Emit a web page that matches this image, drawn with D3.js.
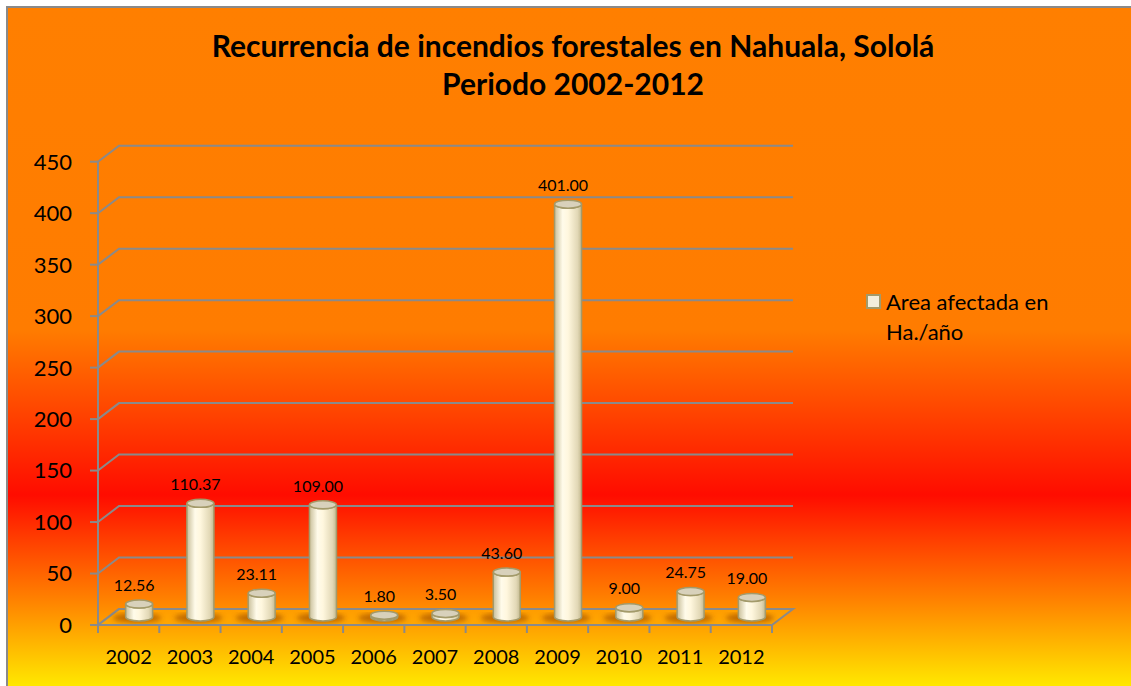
<!DOCTYPE html>
<html>
<head>
<meta charset="utf-8">
<script src="https://cdn.jsdelivr.net/npm/d3@7"></script>
<style>
  body { margin: 0; background: #fff; }
  text { font-family: Lato, "Noto Sans", sans-serif; fill: #000; }
</style>
</head>
<body>
<div id="chart"></div>
<script>
var years = ["2002", "2003", "2004", "2005", "2006", "2007", "2008", "2009", "2010", "2011", "2012"];
var area = [12.56, 110.37, 23.11, 109.00, 1.80, 3.50, 43.60, 401.00, 9.00, 24.75, 19.00];
var yTicks = [0, 50, 100, 150, 200, 250, 300, 350, 400, 450];
var titleLines = ["Recurrencia de incendios forestales en Nahuala, Sololá", "Periodo 2002-2012"];
var legendLines = ["Area afectada en", "Ha./año"];

var width = 1131, height = 686;
var plotLeft = 98, plotRight = 772, plotBottom = 625, plotTop = 161.7;
var depthX = 21, depthY = -16;
var grid = "#8a8a8a";

var svg = d3.select("#chart").append("svg")
    .attr("width", width)
    .attr("height", height);

var defs = svg.append("defs");

// background gradient, orange -> red -> yellow
var bg = defs.append("linearGradient")
    .attr("id", "bg")
    .attr("gradientUnits", "userSpaceOnUse")
    .attr("x1", 0).attr("y1", 7).attr("x2", 0).attr("y2", 686);
[[7, "#ff7f00"], [330, "#ff7c00"], [495, "#ff0c00"], [600, "#ff8200"], [686, "#ffe800"]].forEach(function(s) {
  bg.append("stop").attr("offset", (s[0] - 7) / 679).attr("stop-color", s[1]);
});

var body = defs.append("linearGradient").attr("id", "cyl")
    .attr("x1", 0).attr("y1", 0).attr("x2", 1).attr("y2", 0);
[[0, "#c9bf9a"], [0.3, "#fffbea"], [0.5, "#fff7de"], [0.85, "#e2d8b6"], [1, "#c3b990"]].forEach(function(s) {
  body.append("stop").attr("offset", s[0]).attr("stop-color", s[1]);
});

defs.append("filter").attr("id", "blur")
  .append("feGaussianBlur").attr("stdDeviation", 2.5);

svg.append("rect")
    .attr("x", 7).attr("y", 7)
    .attr("width", width + 20).attr("height", height + 20)
    .attr("fill", "url(#bg)")
    .attr("stroke", grid)
    .attr("stroke-width", 2);

var x = d3.scaleBand().domain(years).range([plotLeft, plotRight]).padding(0);
var y = d3.scaleLinear().domain([0, 450]).range([plotBottom, plotTop]);

// back wall gridlines with the short diagonal from the front axis
var gridG = svg.append("g");
yTicks.forEach(function(t) {
  gridG.append("polyline")
      .attr("points", [[plotLeft, y(t)], [plotLeft + depthX, y(t) + depthY], [plotRight + depthX, y(t) + depthY]].join(" "))
      .attr("fill", "none")
      .attr("stroke", grid)
      .attr("stroke-width", 2);
});

// floor
svg.append("path")
    .attr("d", "M" + plotLeft + "," + plotBottom + "L" + plotRight + "," + plotBottom +
               "L" + (plotRight + depthX) + "," + (plotBottom + depthY) +
               "L" + (plotLeft + depthX) + "," + (plotBottom + depthY) + "Z")
    .attr("fill", "rgba(255,180,0,0.4)")
    .attr("stroke", grid)
    .attr("stroke-width", 2);

// y axis
var yAxis = svg.append("g");
yAxis.append("line")
    .attr("x1", plotLeft).attr("x2", plotLeft)
    .attr("y1", plotTop).attr("y2", plotBottom)
    .attr("stroke", grid).attr("stroke-width", 2);
yTicks.forEach(function(t) {
  yAxis.append("line")
      .attr("x1", plotLeft - 8).attr("x2", plotLeft)
      .attr("y1", y(t)).attr("y2", y(t))
      .attr("stroke", grid).attr("stroke-width", 2);
  yAxis.append("text")
      .attr("x", 72).attr("y", y(t))
      .attr("dy", "0.36em")
      .attr("text-anchor", "end")
      .attr("font-size", "22px")
      .text(t);
});

// x axis ticks + labels
var xAxis = svg.append("g");
d3.range(years.length + 1).forEach(function(i) {
  var xx = plotLeft + i * x.bandwidth();
  xAxis.append("line")
      .attr("x1", xx).attr("x2", xx)
      .attr("y1", plotBottom).attr("y2", plotBottom + 8)
      .attr("stroke", grid).attr("stroke-width", 2);
});
xAxis.selectAll("text.year")
    .data(years)
  .enter().append("text")
    .attr("class", "year")
    .attr("x", function(d) { return x(d) + x.bandwidth() / 2; })
    .attr("y", 657)
    .attr("dy", "0.36em")
    .attr("text-anchor", "middle")
    .attr("font-size", "20px")
    .text(function(d) { return d; });

// cylinders
var rx = 13.5, ry = 4;
var baseY = plotBottom + depthY / 2;
var cyl = svg.selectAll("g.cyl")
    .data(years.map(function(d, i) { return {year: d, v: area[i]}; }))
  .enter().append("g")
    .attr("class", "cyl");

function cx(d) { return x(d.year) + x.bandwidth() / 2 + depthX / 2; }
function topY(d) { return baseY - (y(0) - y(d.v)); }

cyl.append("ellipse")
    .attr("cx", function(d) { return cx(d) - 2; })
    .attr("cy", baseY + 1)
    .attr("rx", 24).attr("ry", 5)
    .attr("fill", "rgba(140,60,0,0.55)")
    .attr("filter", "url(#blur)");

cyl.append("path")
    .attr("d", function(d) {
      var c = cx(d), t = topY(d);
      return "M" + (c - rx) + "," + t +
             "L" + (c - rx) + "," + baseY +
             "A" + rx + "," + ry + " 0 0 0 " + (c + rx) + "," + baseY +
             "L" + (c + rx) + "," + t +
             "A" + rx + "," + ry + " 0 0 1 " + (c - rx) + "," + t + "Z";
    })
    .attr("fill", "url(#cyl)")
    .attr("stroke", "#a39a6a")
    .attr("stroke-width", 1.5);

cyl.append("ellipse")
    .attr("cx", cx)
    .attr("cy", topY)
    .attr("rx", rx).attr("ry", ry)
    .attr("fill", "#d8d1bb")
    .attr("stroke", "#a39a6a")
    .attr("stroke-width", 1.5);

cyl.append("text")
    .attr("x", function(d) { return cx(d) - 5; })
    .attr("y", function(d) { return topY(d) - 19; })
    .attr("dy", "0.36em")
    .attr("text-anchor", "middle")
    .attr("font-size", "16px")
    .text(function(d) { return d.v.toFixed(2); });

// title
svg.selectAll("text.title")
    .data(titleLines)
  .enter().append("text")
    .attr("class", "title")
    .attr("x", 573)
    .attr("y", function(d, i) { return 57 + i * 38; })
    .attr("text-anchor", "middle")
    .attr("font-size", "30px")
    .attr("font-weight", "bold")
    .text(function(d) { return d; });

// legend
var legend = svg.append("g");
legend.append("rect")
    .attr("x", 867).attr("y", 295)
    .attr("width", 13).attr("height", 13)
    .attr("fill", "#f3eedc")
    .attr("stroke", "#a39a6a")
    .attr("stroke-width", 2);
legend.selectAll("text")
    .data(legendLines)
  .enter().append("text")
    .attr("x", 886)
    .attr("y", function(d, i) { return 302 + i * 30; })
    .attr("dy", "0.36em")
    .attr("font-size", "22px")
    .text(function(d) { return d; });
</script>
</body>
</html>
